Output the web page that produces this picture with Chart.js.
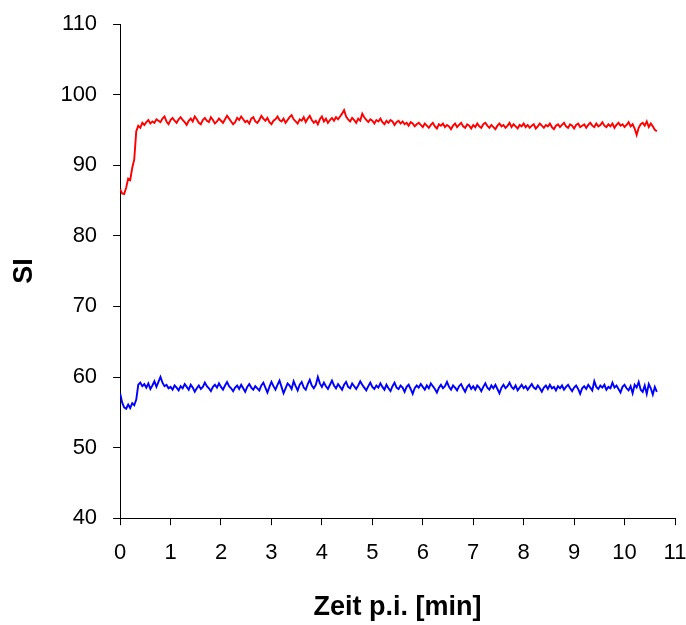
<!DOCTYPE html>
<html>
<head>
<meta charset="utf-8">
<script src="https://cdn.jsdelivr.net/npm/chart.js@4.4.1/dist/chart.umd.min.js"></script>
<style>
  html, body { margin: 0; padding: 0; background: #fff; }
  #wrap { width: 686px; height: 625px; }
</style>
</head>
<body>
<div id="wrap"><canvas id="grafica"></canvas></div>
<script>
// Zeit p.i. in Minuten: Abtastschritt der Messung
const paso = 0.04
const xTicks = [0, 1, 2, 3, 4, 5, 6, 7, 8, 9, 10, 11]
const yTicks = [40, 50, 60, 70, 80, 90, 100, 110]

// Signalintensitaet rot (oben)
const siRot = [
  86.6, 86.0, 85.9, 86.8, 88.1, 87.9, 89.6, 90.8, 94.8, 95.6,
  95.3, 96.0, 95.7, 96.1, 96.4, 95.9, 96.2, 96.0, 96.5, 96.3,
  96.1, 96.6, 96.9, 96.2, 95.8, 96.4, 96.7, 96.3, 96.0, 96.5,
  96.8, 96.4, 96.1, 95.7, 96.3, 96.6, 96.2, 96.9, 96.5, 96.0,
  95.8, 96.4, 96.7, 96.3, 96.1, 96.8, 96.4, 95.9, 96.2, 96.6,
  96.3, 96.0, 96.5, 97.0, 96.6, 96.2, 95.8, 96.1, 96.7, 96.4,
  96.9, 96.5, 96.1, 96.3, 95.9, 96.6, 96.8, 96.2, 96.0, 96.4,
  97.0, 96.6, 96.3, 96.7, 96.1, 95.8, 96.3, 96.5, 96.9, 96.4,
  96.2, 96.6, 96.0, 96.4, 96.8, 97.1, 96.5, 96.2, 95.9, 96.5,
  96.3, 96.8, 96.1, 96.6, 97.0, 96.4, 96.0, 96.3, 95.8, 96.5,
  96.9, 96.2, 96.6, 96.0, 96.4, 96.7, 96.3, 96.8, 96.5, 96.9,
  97.3, 97.8, 96.9, 96.5, 96.2, 96.7, 96.4, 96.0, 96.6, 96.3,
  97.3, 96.8, 96.4, 96.1, 96.5, 96.3, 95.9, 96.4, 96.2, 96.6,
  96.1, 95.8, 96.3, 96.0, 96.4, 96.2, 95.7, 96.1, 96.3, 95.9,
  96.2, 95.8, 96.0, 95.6, 96.1, 95.9, 95.5, 95.8, 96.0, 95.7,
  95.4, 95.9, 95.6, 95.3, 95.7, 96.0, 95.5, 95.2, 95.8, 95.6,
  95.9, 95.4, 95.7, 95.5, 95.1, 95.6, 95.9, 95.4, 95.7, 96.0,
  95.5, 95.3, 95.8, 95.6, 95.2, 95.7, 95.4, 95.9, 95.5, 95.3,
  95.8, 96.0, 95.6, 95.3, 95.7, 95.4, 95.1, 95.6, 95.9, 95.5,
  95.7, 95.3, 95.6, 96.0, 95.4, 95.8, 95.5, 95.2, 95.7, 95.5,
  95.9, 95.4, 95.7, 95.3, 95.6, 95.8, 95.2, 95.5, 95.9, 95.6,
  95.3, 95.7, 95.5, 95.9, 95.4, 95.1, 95.6, 95.8, 95.4, 95.7,
  96.0, 95.5, 95.3, 95.8, 95.6, 95.2, 95.7, 95.9, 95.4, 95.6,
  95.8, 95.3, 95.7, 96.0, 95.6, 95.4, 95.9, 95.5, 95.7, 96.1,
  95.6, 95.4, 95.8, 95.5, 95.9, 95.3, 95.7, 96.0, 95.6, 95.8,
  95.4, 95.7, 96.1, 95.5, 95.8, 95.2, 94.3, 95.3, 95.8, 96.0,
  95.6, 96.2, 95.4, 95.9, 95.5, 95.0, 94.8
]

// Signalintensitaet blau (unten)
const siBlau = [
  57.7, 56.4, 55.7, 55.5, 56.1, 55.6, 56.3, 56.0, 56.8, 58.9,
  59.2, 58.7, 59.0, 58.5, 59.1, 58.3, 58.8, 59.4, 58.6, 59.3,
  60.0, 59.2, 58.7, 58.9, 58.4, 58.6, 58.2, 58.8, 58.5, 58.1,
  58.7, 58.4, 59.0, 58.6, 58.2, 58.9, 58.5, 57.9, 58.4, 58.8,
  58.3, 58.6, 59.2, 58.7, 58.4, 58.0, 58.6, 58.9, 58.5, 59.1,
  58.6, 58.2, 58.8, 59.3, 58.7, 58.4, 58.0, 58.5, 58.8, 58.3,
  58.9, 58.4, 57.9, 58.6, 59.0, 58.5, 58.2, 58.7, 58.4, 58.1,
  58.8, 59.2, 58.5, 57.8, 58.6, 59.3, 58.7, 58.2, 58.9, 59.5,
  58.6, 57.7, 58.4, 59.1, 58.8, 58.3, 59.4, 58.7, 58.1, 58.9,
  59.3, 58.5, 58.2, 59.0, 59.6, 58.8, 58.4, 58.9, 60.0, 59.1,
  58.6, 59.2, 58.7, 58.3, 58.9, 59.5, 58.8, 58.4, 59.0, 58.6,
  58.2, 58.9, 59.3, 58.6, 58.4, 59.1, 58.7, 58.3, 58.8, 59.4,
  58.9, 58.5, 58.1, 58.7, 59.2, 58.6, 58.3, 58.8, 58.5, 59.1,
  58.6, 58.2, 58.9, 58.4, 58.0, 58.7, 59.2, 58.5, 58.3, 58.8,
  58.5, 57.9, 58.6, 58.9, 58.3, 57.6, 58.4, 58.8, 58.5, 59.0,
  58.6, 58.2, 58.8, 58.4, 59.1, 58.7, 58.3, 57.8, 58.5, 58.9,
  58.4, 58.7, 59.3, 58.6, 58.2, 58.8, 58.5, 58.1, 58.7, 59.0,
  58.4, 57.9, 58.6, 58.9, 58.3, 58.7, 58.2, 58.8, 58.5, 58.0,
  58.6, 59.1, 58.5, 58.2, 58.8, 58.4, 58.9, 58.3, 57.7, 58.5,
  58.9, 58.4, 58.7, 59.2, 58.6, 58.3, 58.8, 58.1, 58.5, 58.9,
  58.4, 58.7, 58.2, 58.6, 59.0, 58.5, 58.3, 58.8, 58.4, 57.9,
  58.5, 58.8, 58.3, 58.9, 58.4, 58.6, 58.1, 58.7, 58.4, 58.8,
  58.2, 58.6, 58.9, 58.4, 58.0, 58.5, 58.8, 58.3, 57.6, 58.4,
  58.7, 58.3, 58.9, 58.5, 58.1, 59.4, 58.6, 58.3, 58.8, 58.5,
  58.9, 58.2, 58.6, 58.4, 59.2, 58.5, 58.8, 58.3, 57.8, 58.6,
  58.9, 58.4, 58.1, 58.7, 57.7, 58.9, 58.5, 59.3, 58.2, 57.9,
  58.8, 57.6, 59.0, 58.4, 57.5, 58.6, 57.9
]

let aPuntos = (serie) => serie.map((v, i) => ({ x: +(i * paso).toFixed(2), y: v }))

const fuente = "'Liberation Sans', Arial, sans-serif"

let ctx = document.getElementById("grafica").getContext("2d")

new Chart(ctx, {
  type: "line",
  data: {
    datasets: [
      { label: "rot", data: aPuntos(siRot), borderColor: "#ff0000", borderWidth: 1.9, pointRadius: 0, tension: 0 },
      { label: "blau", data: aPuntos(siBlau), borderColor: "#0000ff", borderWidth: 1.9, pointRadius: 0, tension: 0 }
    ]
  },
  options: {
    responsive: true,
    maintainAspectRatio: false,
    animation: false,
    events: [],
    layout: { padding: { top: 0, right: 0, bottom: 1, left: 0 } },
    plugins: { legend: { display: false }, tooltip: { enabled: false } },
    scales: {
      x: {
        type: "linear",
        min: 0, max: 11,
        afterBuildTicks: (s) => { s.ticks = xTicks.map(v => ({ value: v })) },
        // nur das halbe "11" rechts freihalten
        afterFit: (s) => { s.paddingRight = 11 },
        grid: { drawOnChartArea: false, drawTicks: true, tickLength: 7, color: "#000" },
        border: { display: true, color: "#000", width: 1 },
        ticks: { color: "#000", padding: 15, font: { family: fuente, size: 22 }, maxRotation: 0 },
        title: { display: true, text: "Zeit p.i. [min]", color: "#000", padding: { top: 10, bottom: 0 },
                 font: { family: fuente, size: 27, weight: "bold" } }
      },
      y: {
        min: 40, max: 110,
        afterBuildTicks: (s) => { s.ticks = yTicks.map(v => ({ value: v })) },
        afterFit: (s) => { s.paddingTop = 24 },
        grid: { drawOnChartArea: false, drawTicks: true, tickLength: 7, color: "#000" },
        border: { display: true, color: "#000", width: 1 },
        ticks: { color: "#000", padding: 16, font: { family: fuente, size: 22 } },
        title: { display: true, text: "SI", color: "#000", padding: { top: 8, bottom: 4 },
                 font: { family: fuente, size: 27, weight: "bold" } }
      }
    }
  }
})
</script>
</body>
</html>
